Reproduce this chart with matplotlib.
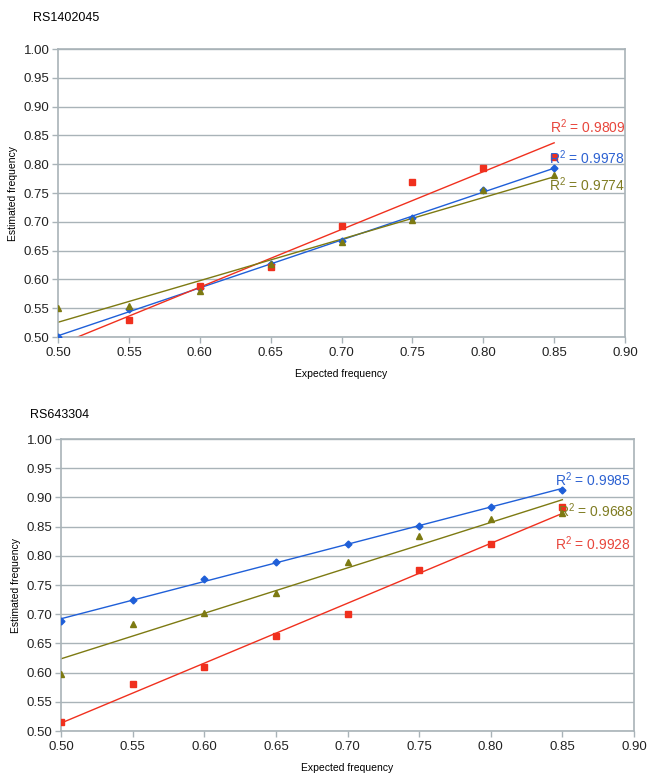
import numpy as np
import matplotlib
matplotlib.use("Agg")
import matplotlib.pyplot as plt

plt.rcParams['font.family'] = ['Liberation Sans', 'DejaVu Sans']

expected = [0.50, 0.55, 0.60, 0.65, 0.70, 0.75, 0.80, 0.85]

# RS1402045
top_blue = [0.500, 0.548, 0.585, 0.627, 0.666, 0.707, 0.755, 0.793]
top_red_x = [0.55, 0.60, 0.65, 0.70, 0.75, 0.80, 0.85]
top_red = [0.529, 0.589, 0.622, 0.693, 0.769, 0.793, 0.812]
top_green = [0.551, 0.553, 0.580, 0.626, 0.665, 0.704, 0.755, 0.781]
top_r2 = {"red": "0.9809", "blue": "0.9978", "green": "0.9774"}

# RS643304
bot_blue = [0.688, 0.724, 0.760, 0.790, 0.821, 0.851, 0.884, 0.913]
bot_red = [0.515, 0.580, 0.610, 0.662, 0.700, 0.775, 0.820, 0.883]
bot_green = [0.598, 0.684, 0.702, 0.736, 0.789, 0.834, 0.863, 0.873]
bot_r2 = {"blue": "0.9985", "green": "0.9688", "red": "0.9928"}

BLUE = '#1f5fd8'
RED = '#f0301e'
GREEN = '#7d7a12'
GRID = '#a9b3b8'
TXT_RED = '#e8463c'
TXT_BLUE = '#2d62d2'
TXT_GREEN = '#7f7c22'


def trend(ax, x, y, color):
    p = np.polyfit(x, y, 1)
    xx = np.array([0.50, 0.85])
    ax.plot(xx, np.polyval(p, xx), color=color, lw=1.0, zorder=2)


def style(ax, ylab_x):
    ax.set_xlim(0.50, 0.90)
    ax.set_ylim(0.50, 1.00)
    ax.set_xticks(np.arange(0.50, 0.901, 0.05))
    ax.set_yticks(np.arange(0.50, 1.001, 0.05))
    ax.xaxis.set_major_formatter(matplotlib.ticker.FormatStrFormatter('%.2f'))
    ax.yaxis.set_major_formatter(matplotlib.ticker.FormatStrFormatter('%.2f'))
    ax.grid(axis='y', color=GRID, lw=1.0)
    ax.set_axisbelow(True)
    for s in ['left', 'right', 'bottom', 'top']:
        ax.spines[s].set_color(GRID)
        ax.spines[s].set_linewidth(1.2)
    ax.tick_params(colors=GRID, labelcolor='#222222', labelsize=9.5, length=4, width=1)
    ax.tick_params(axis='y', pad=2)
    ax.set_ylabel('Estimated frequency', fontsize=7.5)
    ax.yaxis.set_label_coords(ylab_x, 0.5)
    ax.set_xlabel('Expected frequency', fontsize=7.5, labelpad=7)


fig = plt.figure(figsize=(6.52, 7.83), dpi=100)

# top chart
ax1 = fig.add_axes([0.0890, 0.5696, 0.8696, 0.3678])
style(ax1, -0.070)
trend(ax1, expected, top_blue, BLUE)
trend(ax1, top_red_x, top_red, RED)
trend(ax1, expected, top_green, GREEN)
ax1.plot(expected, top_blue, 'D', color=BLUE, ms=3.5, zorder=3)
ax1.plot(top_red_x, top_red, 's', color=RED, ms=5, zorder=3)
ax1.plot(expected, top_green, '^', color=GREEN, ms=5, zorder=4)
ax1.text(0.90, 0.865, '$\\mathregular{R^2}$ = ' + top_r2["red"], color=TXT_RED,
         fontsize=10, ha='right', va='center')
ax1.text(0.90, 0.811, '$\\mathregular{R^2}$ = ' + top_r2["blue"], color=TXT_BLUE,
         fontsize=10, ha='right', va='center')
ax1.text(0.90, 0.764, '$\\mathregular{R^2}$ = ' + top_r2["green"], color=TXT_GREEN,
         fontsize=10, ha='right', va='center')
fig.text(0.051, 0.985, 'RS1402045', fontsize=9, va='top', ha='left')

# bottom chart
ax2 = fig.add_axes([0.0936, 0.0664, 0.8788, 0.3729])
style(ax2, -0.070)
trend(ax2, expected, bot_blue, BLUE)
trend(ax2, expected, bot_red, RED)
trend(ax2, expected, bot_green, GREEN)
ax2.plot(expected, bot_blue, 'D', color=BLUE, ms=3.5, zorder=3)
ax2.plot(expected, bot_red, 's', color=RED, ms=5, zorder=3)
ax2.plot(expected, bot_green, '^', color=GREEN, ms=5, zorder=4)
ax2.text(0.898, 0.930, '$\\mathregular{R^2}$ = ' + bot_r2["blue"], color=TXT_BLUE,
         fontsize=10, ha='right', va='center')
ax2.text(0.90, 0.877, '$\\mathregular{R^2}$ = ' + bot_r2["green"], color=TXT_GREEN,
         fontsize=10, ha='right', va='center')
ax2.text(0.898, 0.820, '$\\mathregular{R^2}$ = ' + bot_r2["red"], color=TXT_RED,
         fontsize=10, ha='right', va='center')
fig.text(0.046, 0.478, 'RS643304', fontsize=9, va='top', ha='left')

fig.savefig('out.png', dpi=100)
